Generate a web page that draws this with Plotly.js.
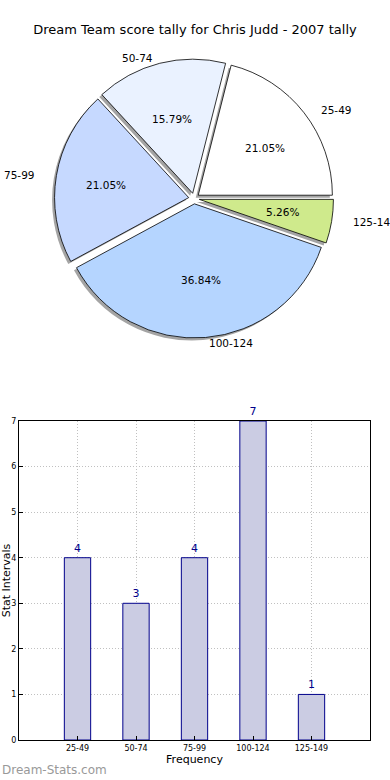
<!DOCTYPE html>
<html>
<head>
<meta charset="utf-8">
<script src="https://cdn.plot.ly/plotly-3.0.1.min.js"></script>
<style>html,body{margin:0;padding:0;background:#fff;}#chart{width:390px;height:780px;}</style>
</head>
<body>
<div id="chart"></div>
<script>
// ---- data ----
var categories = ['25-49', '50-74', '75-99', '100-124', '125-149'];
var counts = [4, 3, 4, 7, 1];
var sliceColors = ['#ffffff', '#eaf2ff', '#c6d9ff', '#b5d5ff', '#cfea8c'];
var yTicks = [0, 1, 2, 3, 4, 5, 6, 7];
var chartTitle = 'Dream Team score tally for Chris Judd - 2007 tally';
var xTitle = 'Frequency';
var yTitle = 'Stat Intervals';
var watermark = 'Dream-Stats.com';

var W = 390, H = 780;
var FONT = 'DejaVu Sans, sans-serif';
function px(x) { return x / W; }
function py(y) { return 1 - y / H; }

var total = counts.reduce(function(a, b){ return a + b; }, 0);
// matplotlib-style start: first slice begins at 3 o'clock going counterclockwise
var rot = 90 - counts[0] / total * 360;

var pull = 0.04;
var pieCx = 194, pieCy = 198.5, half = 139.5;
var pieDomain = { x: [px(pieCx - half), px(pieCx + half)], y: [py(pieCy + half), py(pieCy - half)] };
var sh = 2.5;
var shadowDomain = { x: [px(pieCx - half - sh), px(pieCx + half - sh)], y: [py(pieCy + half + sh), py(pieCy - half + sh)] };

var common = {
  type: 'pie', labels: categories, values: counts, sort: false,
  direction: 'counterclockwise', rotation: rot, pull: pull,
  hoverinfo: 'none', showlegend: false, textinfo: 'none'
};

var shadow = Object.assign({}, common, {
  domain: shadowDomain,
  marker: { colors: categories.map(function(){ return 'rgba(90,90,90,0.55)'; }), line: { width: 0 } }
});

var main = Object.assign({}, common, {
  domain: pieDomain,
  marker: { colors: sliceColors, line: { color: '#000', width: 0.8 } }
});

// label / percentage positions (matplotlib style: labels at 1.1 r, pct at 0.6 r, plus explode)
var rx = 138, ry = 126, expl = 0.05;
var annotations = [];
var cum = 0;
for (var i = 0; i < counts.length; i++) {
  var mid = (cum + counts[i] / 2) / total * 2 * Math.PI;
  cum += counts[i];
  var c = Math.cos(mid), s = Math.sin(mid);
  var L = 1.1 + expl, P = 0.6 + expl;
  annotations.push({
    text: categories[i], xref: 'paper', yref: 'paper',
    x: px(pieCx + L * rx * c), y: py(pieCy - L * ry * s),
    xanchor: c > 0 ? 'left' : 'right', yanchor: 'middle', showarrow: false,
    font: { family: FONT, size: 10.5, color: '#000' }
  });
  annotations.push({
    text: (counts[i] / total * 100).toFixed(2) + '%', xref: 'paper', yref: 'paper',
    x: px(pieCx + P * rx * c), y: py(pieCy - P * ry * s),
    xanchor: 'center', yanchor: 'middle', showarrow: false,
    font: { family: FONT, size: 10.5, color: '#000' }
  });
}
annotations.push({
  text: watermark, xref: 'paper', yref: 'paper', x: 0, y: py(770),
  xanchor: 'left', yanchor: 'middle', showarrow: false,
  font: { family: FONT, size: 12, color: '#999999' }
});

var bars = {
  type: 'bar', x: categories, y: counts, xaxis: 'x', yaxis: 'y',
  width: 0.45,
  marker: { color: '#cbcce3', line: { color: '#00008b', width: 1 } },
  text: counts.map(String), textposition: 'outside', cliponaxis: false,
  textfont: { family: FONT, size: 11, color: '#00008b' },
  hoverinfo: 'none', showlegend: false
};

var layout = {
  width: W, height: H,
  margin: { l: 0, r: 0, t: 0, b: 0 },
  paper_bgcolor: '#fff', plot_bgcolor: '#fff',
  font: { family: FONT, color: '#000' },
  title: { text: chartTitle, font: { family: FONT, size: 13, color: '#000' }, x: 0.5, xanchor: 'center', y: py(29), yanchor: 'middle', yref: 'container' },
  xaxis: {
    domain: [px(19), px(370)], anchor: 'y', type: 'category', range: [-1, 5],
    showline: true, linecolor: '#000', linewidth: 1, mirror: true,
    ticks: 'inside', ticklen: 4, tickcolor: '#000',
    showgrid: true, gridcolor: '#c0c0c0', griddash: '1px,2px', gridwidth: 1,
    tickfont: { family: FONT, size: 8, color: '#000' },
    title: { text: xTitle, font: { family: FONT, size: 11, color: '#000' }, standoff: 3 },
    zeroline: false, fixedrange: true
  },
  yaxis: {
    domain: [py(740), py(421)], anchor: 'x', range: [0, 7],
    tickvals: yTicks,
    showline: true, linecolor: '#000', linewidth: 1, mirror: true,
    ticks: 'inside', ticklen: 4, tickcolor: '#000',
    showgrid: true, gridcolor: '#c0c0c0', griddash: '1px,2px', gridwidth: 1,
    tickfont: { family: FONT, size: 8, color: '#000' },
    title: { text: yTitle, font: { family: FONT, size: 11, color: '#000' }, standoff: 2 },
    zeroline: false, fixedrange: true
  },
  annotations: annotations
};

Plotly.newPlot('chart', [shadow, main, bars], layout, { staticPlot: true, displayModeBar: false });
</script>
</body>
</html>
